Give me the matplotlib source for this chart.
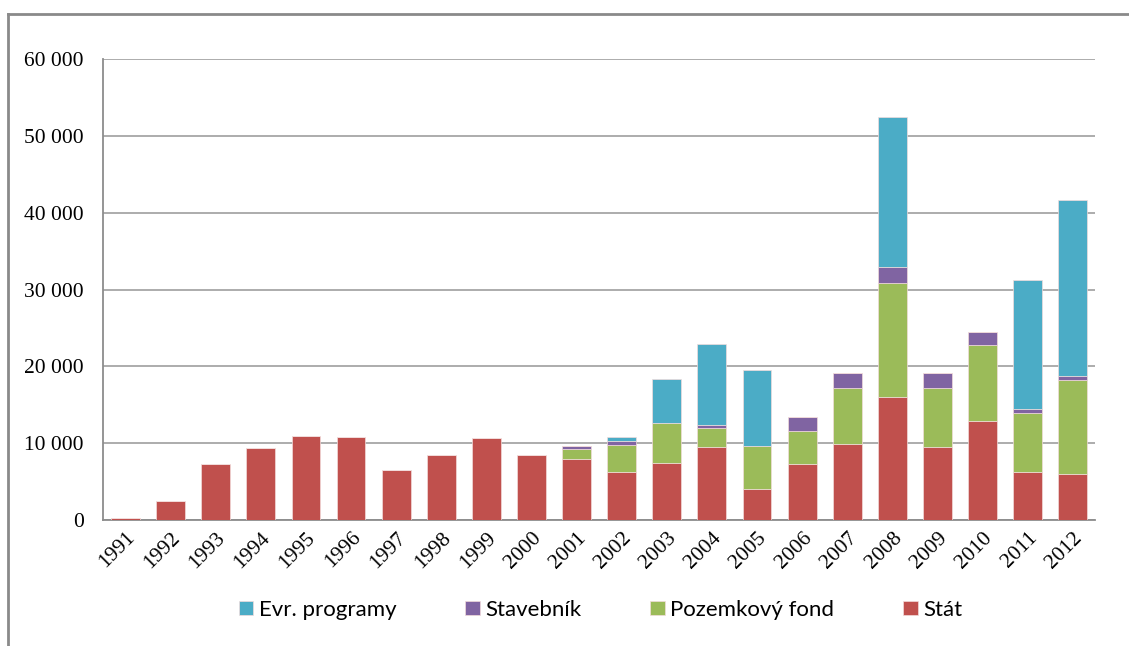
import matplotlib
matplotlib.use("Agg")
import matplotlib.pyplot as plt
from matplotlib.lines import Line2D
from matplotlib.ticker import FuncFormatter
import numpy as np

years = [str(y) for y in range(1991, 2013)]
stat = [200, 2520, 7300, 9390, 11000, 10840, 6530, 8460, 10670, 8460, 7900,
        6250, 7420, 9500, 4000, 7290, 9930, 16050, 9500, 12890, 6250, 5950]
pozemkovy_fond = [0, 0, 0, 0, 0, 0, 0, 0, 0, 0, 1380,
                  3510, 5170, 2510, 5630, 4250, 7250, 14760, 7680, 9890, 7630, 12270]
stavebnik = [0, 0, 0, 0, 0, 0, 0, 0, 0, 0, 310,
             480, 0, 310, 0, 1820, 1910, 2080, 1910, 1650, 610, 560]
evr_programy = [0, 0, 0, 0, 0, 0, 0, 0, 0, 0, 0,
                560, 5760, 10630, 9890, 0, 0, 19520, 0, 0, 16750, 22830]

series = [
    ("Stát", stat, "#C0504D"),
    ("Pozemkový fond", pozemkovy_fond, "#9BBB59"),
    ("Stavebník", stavebnik, "#8064A2"),
    ("Evr. programy", evr_programy, "#4BACC6"),
]

fig = plt.figure(figsize=(11.29, 6.46), dpi=100)
ax = fig.add_axes([0.0912, 0.195, 0.879, 0.7135])

x = np.arange(len(years))
bottom = np.zeros(len(years))
handles = {}
for name, vals, color in series:
    vals = np.array(vals, dtype=float)
    h = ax.bar(x, vals, width=0.64, bottom=bottom, color=color,
               edgecolor="#f2dcdb", linewidth=0.5, zorder=3, label=name)
    handles[name] = h
    bottom += vals

ax.set_xlim(-0.5, len(years) - 0.5)
ax.set_ylim(0, 60000)
ax.set_yticks(range(0, 60001, 10000))
ax.yaxis.set_major_formatter(FuncFormatter(lambda v, p: f"{int(v):,}".replace(",", " ")))
ax.grid(axis="y", color="#a6a6a6", linewidth=1.3, zorder=0)
ax.set_axisbelow(True)

for s in ("top", "right"):
    ax.spines[s].set_visible(False)
for s in ("left", "bottom"):
    ax.spines[s].set_color("#8c8c8c")
    ax.spines[s].set_linewidth(1.3)

ax.set_xticks(x)
ax.set_xticklabels(years, rotation=45, ha="right", rotation_mode="anchor",
                   family="Liberation Serif", fontsize=15.5)
ax.tick_params(axis="x", length=0, pad=6)
ax.tick_params(axis="y", length=0, pad=14, labelsize=15.5)
for lab in ax.get_yticklabels():
    lab.set_family("Liberation Serif")

order = ["Evr. programy", "Stavebník", "Pozemkový fond", "Stát"]
leg = fig.legend([handles[n] for n in order], order, loc="center",
                 bbox_to_anchor=(0.532, 0.056), ncol=4, frameon=False,
                 prop={"family": "Lato", "size": 16}, handlelength=0.65,
                 handleheight=0.65, handletextpad=0.25, columnspacing=3.1)

# outer chart frame (top and left edges visible in the crop)
fig.add_artist(Line2D([0.007, 1.0], [1 - 14 / 646, 1 - 14 / 646],
                      transform=fig.transFigure, color="#8a8a8a", linewidth=2))
fig.add_artist(Line2D([0.007, 0.007], [0.0, 1 - 14 / 646],
                      transform=fig.transFigure, color="#8a8a8a", linewidth=2))

fig.savefig("out.png", dpi=100)
plt.close(fig)
